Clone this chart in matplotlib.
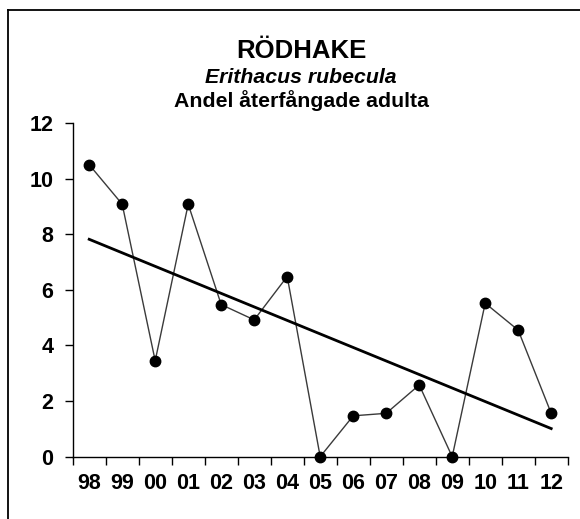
import numpy as np
import matplotlib
matplotlib.use("Agg")
import matplotlib.pyplot as plt
from matplotlib.lines import Line2D

years = ["98", "99", "00", "01", "02", "03", "04", "05", "06", "07", "08", "09", "10", "11", "12"]
values = [10.5, 9.08, 3.45, 9.08, 5.47, 4.92, 6.48, 0.0, 1.47, 1.56, 2.58, 0.0, 5.52, 4.55, 1.56]
yticks = [0, 2, 4, 6, 8, 10, 12]

title1 = "RÖDHAKE"
title2 = "Erithacus rubecula"
title3 = "Andel återfångade adulta"

plt.rcParams['font.family'] = ['Liberation Sans', 'DejaVu Sans']

W, H = 580, 519
fig = plt.figure(figsize=(W / 100, H / 100), dpi=100)
ax = fig.add_axes([72.7 / W, 1 - 456.7 / H, (567.7 - 72.7) / W, (456.7 - 123) / H])

x = np.arange(len(years))
y = np.array(values)

ax.plot(x, y, color='#3a3a3a', lw=1.0, zorder=2, clip_on=False)
ax.plot(x, y, 'o', color='black', ms=7.5, zorder=4, clip_on=False)

coef = np.polyfit(x, y, 1)
ax.plot(x[[0, -1]], np.polyval(coef, x[[0, -1]]), color='black', lw=2.0, zorder=3)

ax.set_xlim(-0.5, len(years) - 0.5)
ax.set_ylim(0, 12)
ax.set_yticks(yticks)
ax.set_yticklabels([str(v) for v in yticks], fontsize=15.5, fontweight='bold')
ax.set_xticks(x)
ax.set_xticklabels(years, fontsize=15.5, fontweight='bold')
ax.set_xticks(np.arange(-0.5, len(years)), minor=True)
ax.tick_params(axis='x', which='major', length=0, pad=11.5)
ax.tick_params(axis='x', which='minor', length=5.5, width=1.0, direction='out')
ax.tick_params(axis='y', which='major', length=6, width=1.0, direction='out', pad=8)

for s in ['top', 'right']:
    ax.spines[s].set_visible(False)
for s in ['left', 'bottom']:
    ax.spines[s].set_linewidth(1.0)

fig.text(301 / W, 1 - 57.7 / H, title1, ha='center', va='baseline', fontsize=18.5, fontweight='bold')
fig.text(301 / W, 1 - 83.3 / H, title2, ha='center', va='baseline', fontsize=15.3, fontweight='bold', style='italic')
fig.text(301 / W, 1 - 107.3 / H, title3, ha='center', va='baseline', fontsize=15.3, fontweight='bold')

# outer frame (left and top edges visible)
fig.add_artist(Line2D([8.3 / W, 8.3 / W], [0, 1 - 10 / H], transform=fig.transFigure, color='black', lw=1.3))
fig.add_artist(Line2D([8.3 / W, 1], [1 - 10 / H, 1 - 10 / H], transform=fig.transFigure, color='black', lw=1.3))

fig.savefig("out.png", dpi=100)
